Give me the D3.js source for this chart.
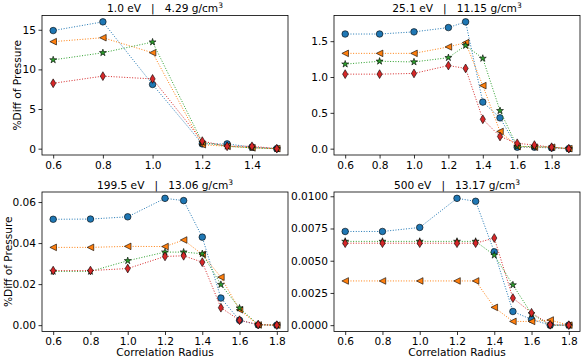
<!DOCTYPE html>
<html>
<head>
<meta charset="utf-8">
<script src="https://cdn.jsdelivr.net/npm/d3@7"></script>
<style>
  body { margin: 0; background: #fff; }
  text { font-family: "DejaVu Sans", sans-serif; fill: #000; white-space: pre; }
</style>
</head>
<body>
<div id="vizContainer"></div>
<script>
// radii (x values)
const radiiA = [0.6, 0.8, 1.0, 1.2, 1.3, 1.4, 1.5];
const radiiB = [0.6, 0.8, 1.0, 1.2, 1.3, 1.4, 1.5, 1.6, 1.7, 1.8, 1.9];
const radiiC = [0.6, 0.8, 1.0, 1.2, 1.3, 1.4, 1.5, 1.6, 1.7, 1.8];

// 1.0 eV | 4.29 g/cm3
const t1Blue   = [14.9, 16.0, 8.1, 0.6, 0.6, 0.2, 0.0];
const t1Orange = [13.5, 14.0, 12.1, 0.5, 0.3, 0.1, 0.0];
const t1Green  = [11.2, 12.1, 13.45, 0.8, 0.3, 0.1, 0.0];
const t1Red    = [8.25, 9.15, 8.8, 0.95, 0.3, 0.3, 0.0];

// 25.1 eV | 11.15 g/cm3
const t2Blue   = [1.60, 1.60, 1.63, 1.69, 1.77, 0.65, 0.43, 0.02, 0.02, 0.01, 0.0];
const t2Orange = [1.33, 1.33, 1.33, 1.42, 1.48, 0.88, 0.24, 0.03, 0.02, 0.02, 0.0];
const t2Green  = [1.18, 1.22, 1.21, 1.27, 1.44, 1.26, 0.53, 0.03, 0.03, 0.02, 0.0];
const t2Red    = [1.04, 1.04, 1.05, 1.16, 1.12, 0.41, 0.17, 0.075, 0.05, 0.02, 0.0];

// 199.5 eV | 13.06 g/cm3
const t3Blue   = [0.0516, 0.0517, 0.0528, 0.0618, 0.0607, 0.0429, 0.0132, 0.0024, 0.0001, 0.0];
const t3Orange = [0.0379, 0.0379, 0.0384, 0.0383, 0.0415, 0.0345, 0.0234, 0.0075, 0.0001, 0.0];
const t3Green  = [0.0262, 0.0262, 0.0314, 0.0356, 0.0356, 0.0348, 0.0198, 0.0083, 0.0003, 0.0];
const t3Red    = [0.0266, 0.0266, 0.0276, 0.0335, 0.0338, 0.0307, 0.0085, 0.0024, 0.0003, 0.0];

// 500 eV | 13.17 g/cm3
const t4Blue   = [0.00727, 0.00727, 0.00758, 0.00984, 0.00961, 0.00569, 0.00106, 0.00044, 0.0, 0.0];
const t4Orange = [0.00343, 0.00343, 0.00343, 0.00343, 0.00343, 0.00138, 0.00029, 0.00029, 0.0004, 0.0];
const t4Green  = [0.00650, 0.00650, 0.00650, 0.00650, 0.00650, 0.00543, 0.00312, 0.00088, 0.0, 0.0];
const t4Red    = [0.00636, 0.00636, 0.00636, 0.00636, 0.00636, 0.00676, 0.00210, 0.00096, 0.00003, 0.0];

const panels = [
  { temp: "1.0 eV", dens: "4.29", x: radiiA, series: [t1Blue, t1Orange, t1Green, t1Red], yTicks: [0, 5, 10, 15], fmt: d3.format("d"), col: 0, row: 0, labelOff: -21 },
  { temp: "25.1 eV", dens: "11.15", x: radiiB, series: [t2Blue, t2Orange, t2Green, t2Red], yTicks: [0, 0.5, 1.0, 1.5], fmt: d3.format(".1f"), col: 1, row: 0 },
  { temp: "199.5 eV", dens: "13.06", x: radiiC, series: [t3Blue, t3Orange, t3Green, t3Red], yTicks: [0, 0.02, 0.04, 0.06], fmt: d3.format(".2f"), col: 0, row: 1, labelOff: -30 },
  { temp: "500 eV", dens: "13.17", x: radiiC, series: [t4Blue, t4Orange, t4Green, t4Red], yTicks: [0, 0.0025, 0.005, 0.0075, 0.01], fmt: d3.format(".4f"), col: 1, row: 1 }
];

const colors = ["#1f77b4", "#ff7f0e", "#2ca02c", "#d62728"];
const markers = [
  d3.symbol(d3.symbolCircle, 34)(),
  "M-3.3,0L3.3,-3.3L3.3,3.3Z",
  d3.symbol(d3.symbolStar, 15)(),
  "M0,-4.4L2.6,0L0,4.4L-2.6,0Z"
];

const width = 585, height = 360;
const colX = [42, 334], rowY = [15.5, 192];
const pw = 246, ph = 139.5;
const fs = 10.6;

const svg = d3.select("#vizContainer").append("svg")
  .attr("width", width).attr("height", height);

panels.forEach(p => {
  const x0 = colX[p.col], y0 = rowY[p.row];
  const g = svg.append("g").attr("transform", `translate(${x0},${y0})`);

  const xe = d3.extent(p.x);
  const xp = (xe[1] - xe[0]) * 0.05;
  const all = p.series.flat();
  const ye = d3.extent(all);
  const yp = (ye[1] - ye[0]) * 0.05;

  const x = d3.scaleLinear().domain([xe[0] - xp, xe[1] + xp]).range([0, pw]);
  const y = d3.scaleLinear().domain([ye[0] - yp, ye[1] + yp]).range([ph, 0]);

  const xTicks = p.x[p.x.length - 1] > 1.6 ? [0.6, 0.8, 1.0, 1.2, 1.4, 1.6, 1.8] : [0.6, 0.8, 1.0, 1.2, 1.4];

  const xAxis = g.append("g").attr("transform", `translate(0,${ph})`)
    .call(d3.axisBottom(x).tickValues(xTicks).tickFormat(d3.format(".1f")).tickSize(3.5).tickPadding(2.5));
  const yAxis = g.append("g")
    .call(d3.axisLeft(y).tickValues(p.yTicks).tickFormat(p.fmt).tickSize(3.5).tickPadding(2.5));
  [xAxis, yAxis].forEach(a => {
    a.select(".domain").remove();
    a.selectAll("line").attr("stroke", "#000").attr("stroke-width", 0.8);
    a.selectAll("text").attr("font-size", fs).attr("font-family", "DejaVu Sans");
  });

  // series
  p.series.forEach((vals, i) => {
    const pts = vals.map((v, k) => [p.x[k], v]);
    g.append("path")
      .attr("d", d3.line().x(d => x(d[0])).y(d => y(d[1]))(pts))
      .attr("fill", "none")
      .attr("stroke", colors[i])
      .attr("stroke-width", 1)
      .attr("stroke-dasharray", "1,1.65");
    g.selectAll(null).data(pts).enter().append("path")
      .attr("d", markers[i])
      .attr("transform", d => `translate(${x(d[0])},${y(d[1])})`)
      .attr("fill", colors[i])
      .attr("stroke", "#000")
      .attr("stroke-width", 0.6);
  });

  // frame
  g.append("rect").attr("width", pw).attr("height", ph)
    .attr("fill", "none").attr("stroke", "#000").attr("stroke-width", 0.8);

  // title
  const t = g.append("text").attr("x", pw / 2).attr("y", -3.5)
    .attr("text-anchor", "middle").attr("font-size", fs);
  t.append("tspan").text(`${p.temp}   |   ${p.dens} g/cm`);
  t.append("tspan").attr("dy", -4).attr("font-size", 7.5).text("3");

  if (p.col === 0) {
    g.append("text")
      .attr("transform", `translate(${p.labelOff},${ph / 2}) rotate(-90)`)
      .attr("text-anchor", "middle").attr("font-size", fs)
      .text("%Diff of Pressure");
  }
  if (p.row === 1) {
    g.append("text").attr("x", pw / 2).attr("y", ph + 24)
      .attr("text-anchor", "middle").attr("font-size", fs)
      .text("Correlation Radius");
  }
});
</script>
</body>
</html>
